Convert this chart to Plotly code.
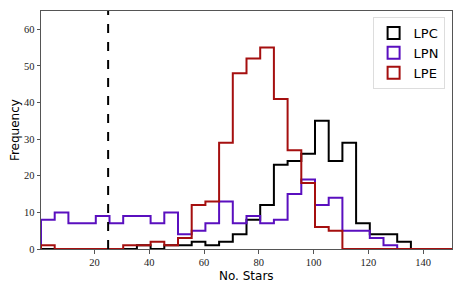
import plotly.graph_objects as go

# Histogram bin edges (width 5)
bin_start = 0.5
bin_width = 5
n_bins = 30
edges = [bin_start + bin_width * i for i in range(n_bins + 1)]

# Counts per bin
lpc_counts = [0, 0, 0, 0, 0, 0, 0, 1, 0, 1, 1, 2, 1, 2, 4, 8, 12, 23, 24, 26,
              35, 24, 29, 7, 4, 4, 2, 0, 0, 0]
lpn_counts = [8, 10, 7, 7, 9, 7, 9, 9, 7, 10, 4, 5, 7, 13, 7, 9, 7, 8, 15, 19,
              12, 14, 5, 5, 3, 1, 0, 0, 0, 0]
lpe_counts = [1, 0, 0, 0, 0, 0, 1, 1, 2, 1, 3, 12, 13, 29, 48, 52, 55, 41, 27, 18,
              6, 5, 0, 0, 0, 0, 0, 0, 0, 0]

series_names = ["LPC", "LPN", "LPE"]
series_counts = [lpc_counts, lpn_counts, lpe_counts]
series_colors = ["#000000", "#5a0fbf", "#a50f0f"]

threshold = 25
x_ticks = [20, 40, 60, 80, 100, 120, 140]
y_ticks = [0, 10, 20, 30, 40, 50, 60]

fig = go.Figure()

for name, counts, color in zip(series_names, series_counts, series_colors):
    xs = [edges[0]] + edges[:-1] + [edges[-1]]
    ys = [0] + counts + [0]
    fig.add_trace(go.Scatter(x=xs, y=ys, mode="lines", line_shape="hv",
                             line=dict(color=color, width=2),
                             showlegend=False, hoverinfo="skip"))

# legend entries (outlined boxes)
for name, color in zip(series_names, series_colors):
    fig.add_trace(go.Bar(x=[None], y=[None], name=name,
                         marker=dict(color="rgba(255,255,255,0)",
                                     line=dict(color=color, width=2))))

fig.add_vline(x=threshold, line=dict(color="black", width=2, dash="dash"))

axis_common = dict(showgrid=False, zeroline=False, showline=True, mirror=True,
                   linecolor="#555555", linewidth=1, ticks="outside",
                   ticklen=3.5, tickcolor="#555555", automargin=False,
                   tickfont=dict(family="Liberation Serif", size=10.5, color="#222"))

fig.update_xaxes(range=[edges[0], edges[-1]], tickvals=x_ticks, **axis_common)
fig.update_yaxes(range=[0, 65], tickvals=y_ticks, **axis_common)

title_font = dict(family="DejaVu Sans", size=12, color="black")
fig.add_annotation(text="No. Stars", xref="paper", yref="paper", x=0.5, y=-0.115,
                   xanchor="center", yanchor="middle", showarrow=False, font=title_font)
fig.add_annotation(text="Frequency", xref="paper", yref="paper", x=-0.063, y=0.5,
                   xanchor="center", yanchor="middle", textangle=-90,
                   showarrow=False, font=title_font)

fig.update_layout(
    width=463, height=290,
    margin=dict(l=41, r=11, t=11, b=41),
    plot_bgcolor="white", paper_bgcolor="white",
    legend=dict(x=0.982, y=0.975, xanchor="right", yanchor="top",
                bgcolor="white", bordercolor="#dddddd", borderwidth=1,
                font=dict(family="DejaVu Sans", size=13, color="black"),
                itemwidth=30),
)

fig.write_html("out.html", config={"displayModeBar": False},
               post_script="document.body.style.margin='0';document.body.style.overflow='hidden';")
